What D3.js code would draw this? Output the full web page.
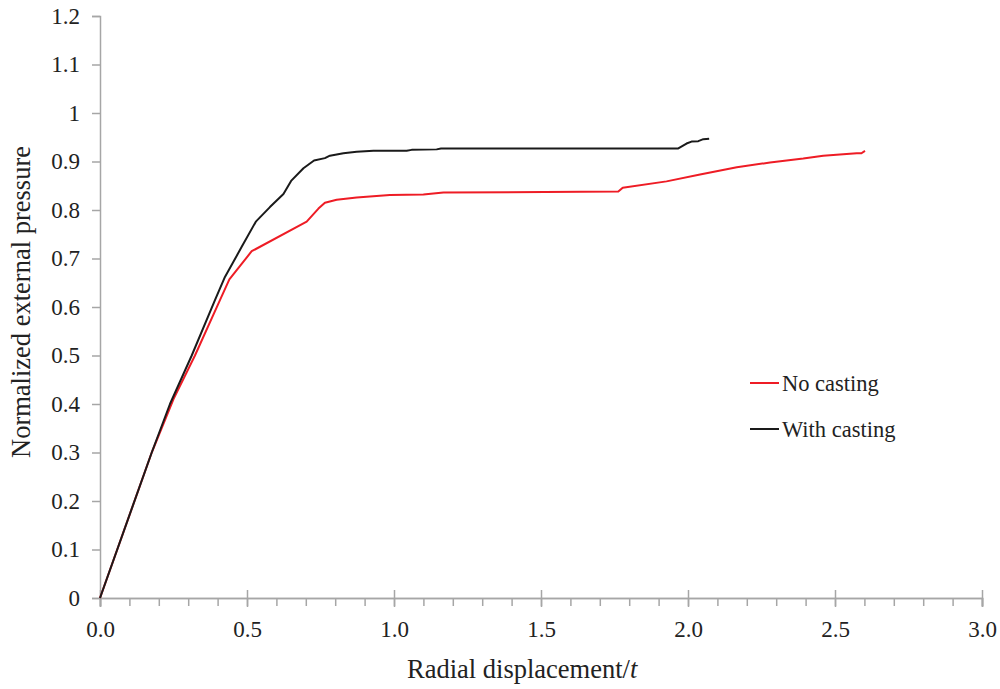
<!DOCTYPE html>
<html>
  <head>
    <title>d3</title>
    <meta charset="utf-8">
    <script src="https://d3js.org/d3.v7.min.js"></script>
    <style type="text/css">
      body { margin: 0; background: #fff; }
      #chart text {
        font-family: "Liberation Serif", "Times New Roman", serif;
        fill: #222;
      }
    </style>
  </head>
  <body>
    <svg id="chart"></svg>
    <script>
      // data
      var noCastingX = [0, 0.176, 0.25, 0.323, 0.408, 0.44, 0.516, 0.703, 0.743, 0.765, 0.805, 0.873, 0.918, 0.986, 1.1, 1.168, 1.763, 1.778, 1.927, 2.041, 2.166, 2.279, 2.392, 2.46, 2.528, 2.574, 2.59, 2.602];
      var noCastingY = [0, 0.3, 0.41, 0.5, 0.614, 0.657, 0.715, 0.776, 0.803, 0.815, 0.821, 0.826, 0.828, 0.831, 0.832, 0.836, 0.838, 0.846, 0.859, 0.873, 0.888, 0.898, 0.906, 0.912, 0.915, 0.917, 0.917, 0.922];
      var withCastingX = [0, 0.176, 0.238, 0.312, 0.391, 0.425, 0.482, 0.53, 0.578, 0.624, 0.65, 0.692, 0.728, 0.765, 0.782, 0.828, 0.873, 0.93, 1.043, 1.06, 1.145, 1.16, 1.967, 1.995, 2.012, 2.035, 2.052, 2.072];
      var withCastingY = [0, 0.3, 0.4, 0.5, 0.614, 0.662, 0.724, 0.776, 0.806, 0.833, 0.86, 0.886, 0.902, 0.907, 0.912, 0.917, 0.92, 0.922, 0.922, 0.924, 0.925, 0.927, 0.927, 0.937, 0.941, 0.942, 0.946, 0.947];
      var seriesNames = ["No casting", "With casting"];
      var seriesColors = ["#ee1c25", "#1a1a1a"];
      var xTicks = [0, 0.5, 1.0, 1.5, 2.0, 2.5, 3.0];
      var xMinorTicks = d3.range(0, 31).map(function(i) { return i / 10; });
      var yTicks = [0, 0.1, 0.2, 0.3, 0.4, 0.5, 0.6, 0.7, 0.8, 0.9, 1, 1.1, 1.2];

      var width = 1000, height = 689;
      var plotLeft = 100, plotRight = 982, plotTop = 16, plotBottom = 598;
      var axisColor = "#a6a6a6";

      var svg = d3.select("#chart")
          .attr("width", width)
          .attr("height", height);

      var x = d3.scaleLinear().domain([0, 3]).range([plotLeft, plotRight]);
      var y = d3.scaleLinear().domain([0, 1.2]).range([plotBottom, plotTop]);

      // x axis: minor ticks below, major ticks crossing the line
      var gx = svg.append("g").attr("transform", "translate(0," + plotBottom + ")");
      gx.call(d3.axisBottom(x).tickValues(xMinorTicks).tickSize(8).tickFormat(""));
      gx.append("g").call(d3.axisBottom(x).tickValues(xTicks).tickSize(9)
          .tickFormat(function(d) { return d3.format(".1f")(d); }).tickPadding(14));
      gx.selectAll(".tick line").attr("stroke", axisColor).attr("stroke-width", 1.5);
      gx.selectAll("g g .tick line").attr("y1", -8);
      gx.selectAll(".domain").attr("stroke", axisColor).attr("stroke-width", 1.5);
      gx.selectAll("text").attr("font-size", 23).attr("fill", "#222");

      // y axis
      var gy = svg.append("g").attr("transform", "translate(" + plotLeft + ",0)");
      gy.call(d3.axisLeft(y).tickValues(yTicks).tickSize(8).tickPadding(12)
          .tickFormat(function(d) { return d3.format("")(+d.toFixed(1)); }));
      gy.selectAll(".tick line").attr("stroke", axisColor).attr("stroke-width", 1.5);
      gy.selectAll(".domain").attr("stroke", axisColor).attr("stroke-width", 1.5);
      gy.selectAll("text").attr("font-size", 23).attr("fill", "#222");

      // axis titles
      var xt = svg.append("text")
          .attr("x", 407)
          .attr("y", 678)
          .attr("font-size", 26.5);
      xt.append("tspan").text("Radial displacement/");
      xt.append("tspan").attr("font-style", "italic").text("t");

      svg.append("text")
          .attr("transform", "translate(30,302) rotate(-90)")
          .attr("text-anchor", "middle")
          .attr("font-size", 26.5)
          .text("Normalized external pressure");

      // lines
      var line = d3.line()
          .x(function(d) { return x(d[0]); })
          .y(function(d) { return y(d[1]); });

      var series = [
        d3.zip(noCastingX, noCastingY),
        d3.zip(withCastingX, withCastingY)
      ];

      svg.selectAll(".series")
          .data(series)
          .enter().append("path")
            .attr("class", "series")
            .attr("fill", "none")
            .attr("stroke", function(d, i) { return seriesColors[i]; })
            .attr("stroke-width", 2)
            .attr("stroke-linejoin", "round")
            .attr("d", line);

      // legend
      var legend = svg.selectAll(".legend")
          .data(seriesNames)
          .enter().append("g")
            .attr("class", "legend")
            .attr("transform", function(d, i) { return "translate(750," + (383 + i * 46) + ")"; });

      legend.append("line")
          .attr("x1", 0).attr("x2", 29)
          .attr("stroke", function(d, i) { return seriesColors[i]; })
          .attr("stroke-width", 2);

      legend.append("text")
          .attr("x", 32)
          .attr("dy", "0.35em")
          .attr("font-size", 22.5)
          .text(function(d) { return d; });
    </script>
  </body>
</html>
